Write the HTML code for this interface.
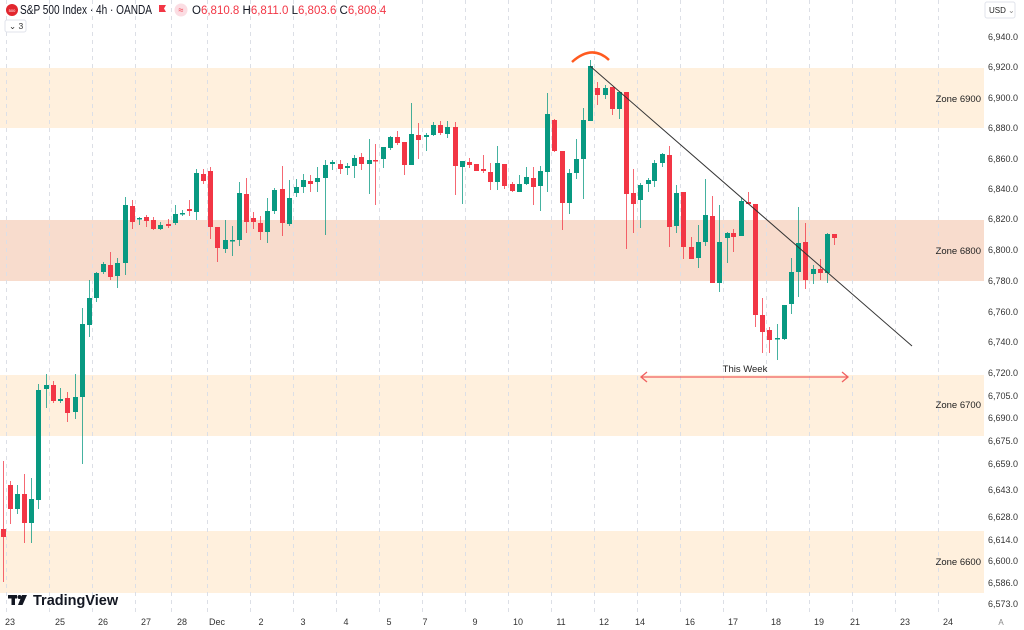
<!DOCTYPE html>
<html><head><meta charset="utf-8"><style>
html,body{margin:0;padding:0;background:#fff;width:1024px;height:630px;overflow:hidden;font-family:"Liberation Sans",sans-serif}
svg{position:absolute;left:0;top:0}
</style></head><body>
<svg id="s" width="1024" height="630" xmlns="http://www.w3.org/2000/svg" font-family="Liberation Sans, sans-serif">
<rect x="0" y="68" width="984" height="60" fill="#fff0dd"/>
<rect x="0" y="220" width="984" height="61" fill="#f8dccd"/>
<rect x="0" y="375" width="984" height="61" fill="#fff0dd"/>
<rect x="0" y="531" width="984" height="62" fill="#fff0dd"/>
<g id="grid" stroke="#dcdfe6" stroke-width="1" stroke-dasharray="4,4"></g>
<g id="c"></g>
<line x1="590" y1="66" x2="912" y2="346" stroke="#333" stroke-width="1"/>
<path d="M572 62 Q592 44 609 60" stroke="#ff5a1f" stroke-width="2.5" fill="none"/>
<line x1="641" y1="377" x2="848" y2="377" stroke="#f06060" stroke-width="1.3"/>
<path d="M647 372 L641 377 L647 382 M842 372 L848 377 L842 382" stroke="#f06060" stroke-width="1.3" fill="none"/>
<text x="745" y="372" font-size="9.5" fill="#222" text-anchor="middle">This Week</text>
<g font-size="9.5" fill="#222" text-anchor="end">
<text x="981" y="102">Zone 6900</text><text x="981" y="254">Zone 6800</text>
<text x="981" y="408">Zone 6700</text><text x="981" y="565">Zone 6600</text>
</g>
<g id="ya" font-size="9" fill="#333"></g>
<g id="xa" font-size="9" fill="#333" text-anchor="middle"></g>
<rect x="985" y="2" width="30" height="16" rx="2" fill="#fff" stroke="#e0e3eb"/>
<text x="989" y="13" font-size="8" fill="#222">USD</text><text x="1008" y="13" font-size="8" fill="#888">⌄</text>
<text x="1001" y="625" font-size="8" fill="#888" text-anchor="middle">A</text>
<circle cx="12" cy="10" r="6" fill="#e2262e"/><text x="12" y="12" font-size="4" fill="#fff" text-anchor="middle">500</text>
<text x="20" y="14" font-size="12.5" fill="#131722" textLength="132" lengthAdjust="spacingAndGlyphs">S&amp;P 500 Index · 4h · OANDA</text>
<path d="M159 5 h7 l-2 3.5 l2 3.5 h-7 z" fill="#f23645"/>
<circle cx="181" cy="10" r="6.5" fill="#fbdde3"/><text x="181" y="13" font-size="9" fill="#f23645" text-anchor="middle">≈</text>
<text x="192" y="14" font-size="11.5" fill="#f23645"><tspan fill="#131722">O</tspan>6,810.8 <tspan fill="#131722">H</tspan>6,811.0 <tspan fill="#131722">L</tspan>6,803.6 <tspan fill="#131722">C</tspan>6,808.4</text>
<rect x="5" y="20" width="21" height="12" rx="2" fill="#fff" stroke="#e0e3eb"/>
<text x="9" y="29" font-size="8.5" fill="#333">⌄ 3</text>
<g fill="#131722"><rect x="8" y="595" width="9" height="3.5"/><rect x="11.5" y="595" width="3.5" height="10"/><circle cx="19.5" cy="597" r="2"/><path d="M22 595 h5 l-4.5 10 h-4.5 z"/></g>
<text x="33" y="605" font-size="14.5" font-weight="bold" fill="#131722">TradingView</text>
</svg>
<script>
var NS="http://www.w3.org/2000/svg";
function el(p,t,a,txt){var e=document.createElementNS(NS,t);for(var k in a)e.setAttribute(k,a[k]);if(txt)e.textContent=txt;p.appendChild(e);return e;}
var g=document.getElementById('grid');
[6,49,92,135,171,207,250,293,336,379,422,465,508,551,594,637,680,723,766,809,852,895,938].forEach(function(x){el(g,'line',{x1:x+.5,y1:0,x2:x+.5,y2:612});});
var ya=document.getElementById('ya');
[[6940,40],[6920,70],[6900,101],[6880,131],[6860,162],[6840,192],[6820,222],[6800,253],[6780,284],[6760,315],[6740,345],[6720,376],[6705,399],[6690,421],[6675,444],[6659,467],[6643,493],[6628,520],[6614,543],[6600,564],[6586,586],[6573,607]].forEach(function(a){el(ya,'text',{x:988,y:a[1]},(a[0]/1000|0)+','+String(a[0]%1000).padStart(3,'0')+'.0');});
var xa=document.getElementById('xa');
[['23',10],['25',60],['26',103],['27',146],['28',182],['Dec',217],['2',261],['3',303],['4',346],['5',389],['7',425],['9',475],['10',518],['11',561],['12',604],['14',640],['16',690],['17',733],['18',776],['19',819],['21',855],['23',905],['24',948]].forEach(function(a){el(xa,'text',{x:a[1],y:625},a[0]);});
var C=[[3,529,537,461,582],[10,485,509,481,524],[17,509,494,485,514],[24,494,523,474,543],[31,523,499,478,543],[38,500,390,384,509],[46,389,385,374,408],[53,385,401,381,403],[60,401,399,388,403],[67,398,413,392,422],[75,412,397,374,419],[82,397,324,308,464],[89,325,298,280,337],[96,298,273,272,302],[103,272,264,262,274],[110,265,277,252,280],[117,276,263,258,288],[125,263,205,197,275],[132,206,222,200,229],[139,219,218,217,225],[146,217,221,215,227],[153,220,229,217,230],[160,229,225,222,230],[168,224,226,219,228],[175,223,214,205,225],[182,214,213,210,216],[189,209,211,200,216],[196,212,173,169,220],[203,174,181,169,184],[210,171,227,167,239],[217,227,248,227,262],[225,249,240,220,253],[232,241,240,226,256],[239,240,193,182,246],[246,194,222,178,233],[253,218,222,212,229],[260,223,232,216,240],[267,232,211,198,243],[274,211,190,188,214],[282,189,223,166,236],[289,224,198,180,226],[296,193,187,179,197],[303,187,180,174,193],[310,181,184,175,192],[317,182,178,167,192],[325,178,165,160,235],[332,164,162,160,170],[340,164,169,160,174],[347,168,166,163,175],[354,166,158,155,178],[361,157,164,153,170],[369,164,160,139,194],[375,160,161,144,205],[383,159,147,147,168],[390,148,137,136,150],[397,137,143,131,145],[404,142,165,142,175],[411,165,134,103,165],[418,135,140,123,159],[426,137,135,133,151],[433,135,125,122,136],[440,125,133,121,135],[447,134,127,121,138],[455,127,166,122,195],[462,167,161,161,204],[469,162,165,158,168],[476,164,171,164,171],[483,169,171,155,173],[490,172,182,163,190],[497,182,163,146,190],[504,164,186,164,189],[512,184,191,182,192],[519,192,184,175,192],[526,184,177,167,185],[533,178,187,167,205],[540,186,171,166,211],[547,172,114,93,192],[554,120,151,119,152],[562,151,203,151,230],[569,203,173,169,214],[576,173,159,139,179],[583,159,120,108,199],[590,121,66,60,121],[597,88,95,82,105],[605,95,88,85,99],[612,87,109,87,115],[619,109,92,92,119],[626,92,194,92,249],[633,193,204,169,233],[640,200,185,183,228],[648,184,180,178,192],[654,181,163,160,187],[662,163,154,153,167],[669,155,227,146,247],[676,226,193,185,233],[683,192,247,192,259],[691,247,259,237,259],[698,258,242,225,268],[705,242,215,179,246],[712,216,283,196,283],[719,283,242,205,292],[727,238,233,232,263],[733,233,237,229,252],[741,236,201,198,236],[748,202,204,192,204],[755,204,315,204,327],[762,315,332,298,353],[769,330,340,327,353],[777,339,338,324,360],[784,339,305,305,340],[791,304,272,258,314],[798,272,243,207,297],[805,242,280,223,289],[813,274,269,265,284],[820,269,273,259,280],[827,273,234,233,283],[834,234,238,234,245]];
var cg=document.getElementById('c');
C.forEach(function(d){var up=d[2]<d[1];var col=up?'#089981':'#f23645';
el(cg,'line',{x1:d[0]+.5,y1:d[3],x2:d[0]+.5,y2:d[4],stroke:col,'stroke-width':1,opacity:.75});
var t=Math.min(d[1],d[2]),h=Math.max(1.5,Math.abs(d[1]-d[2]));
el(cg,'rect',{x:d[0]-2,y:t,width:5,height:h,fill:col});});
</script>
</body></html>
